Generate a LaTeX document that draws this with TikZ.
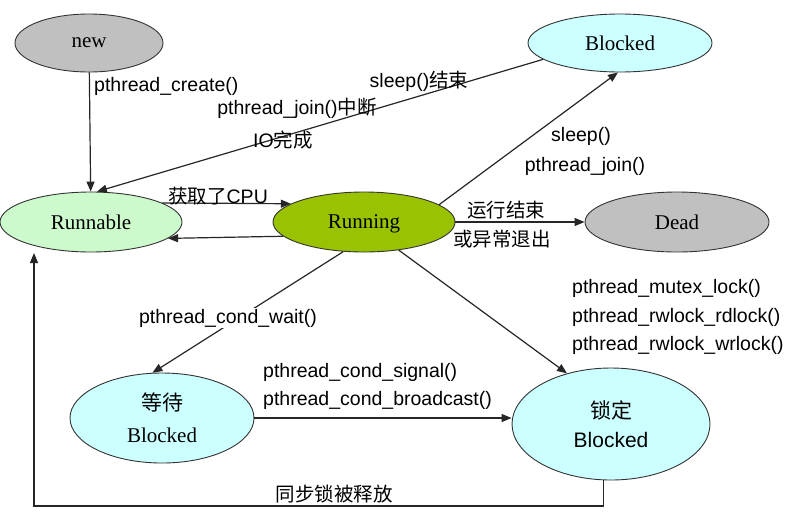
\documentclass[tikz,border=0pt]{standalone}
\usepackage{fontspec}
\setmainfont{Liberation Serif}
\newfontfamily\lab{Liberation Sans}
\newfontfamily\cjk{Noto Sans CJK SC}
\usetikzlibrary{arrows.meta,shapes.geometric}
\definecolor{gnew}{RGB}{192,192,192}
\definecolor{grunnable}{RGB}{204,250,204}
\definecolor{grunning}{RGB}{153,194,0}
\definecolor{gblocked}{RGB}{204,255,255}
\begin{document}
\begin{tikzpicture}[x=1pt,y=-1pt,
  state/.style={ellipse,draw=black!80,line width=0.9pt,inner sep=0pt,font=\fontsize{21}{24}\selectfont},
  arr/.style={draw=black!85,line width=1.2pt,-{Triangle[length=10pt,width=8pt]}},
  lbl/.style={font=\fontsize{19.5}{22}\lab,inner sep=1pt}]
\useasboundingbox (0,0) rectangle (799,515);
\fill[white] (0,0) rectangle (799,515);

% states
\node[state,fill=gnew,minimum width=148,minimum height=58] (new) at (89,43) {new};
\node[state,fill=grunnable,minimum width=182,minimum height=60] (run) at (91,222) {Runnable};
\node[state,fill=grunning,minimum width=182,minimum height=60,text depth=0pt] (ing) at (364,222) {Running};
\node[state,fill=gblocked,minimum width=184,minimum height=58] (blk) at (620,43) {Blocked};
\node[state,fill=gnew,minimum width=184,minimum height=60] (dead) at (677,222) {Dead};
\node[state,fill=gblocked,minimum width=184,minimum height=90,align=center,font=\fontsize{21}{32}\selectfont] (wait) at (162,418) {{\cjk 等待}\\Blocked};
\node[state,fill=gblocked,minimum width=198,minimum height=112,align=center,font=\fontsize{21}{29}\lab] (lock) at (611,424) {{\cjk 锁定}\\Blocked};

% connectors
\draw[arr] (new) -- (run);
\draw[arr] (blk.192) -- (run.79);
\draw[arr] (run.15) -- (ing.166);
\draw[arr] (ing.190.8) -- (run.348);
\draw[arr] (ing.13) -- (blk.266);
\draw[arr] (ing) -- (dead);
\draw[arr] (ing.235) -- (wait.102);
\draw[arr] (ing.321) -- (lock.131);
\draw[arr] (wait.east) -- (wait.east -| lock.west);
\coordinate (relCorner) at (34,506);
\coordinate (relEnd) at (34,253);
\draw[arr] (lock.262) |- (relCorner) -- (relEnd);

% labels
\node[lbl,anchor=west] at (93,86) {pthread\_create()};
\node[lbl] at (419,81) {sleep(){\cjk 结束}};
\node[lbl] at (297,108) {pthread\_join(){\cjk 中断}};
\node[lbl] at (283,140) {IO{\cjk 完成}};
\node[lbl] at (218,196) {{\cjk 获取了}CPU};
\node[lbl] at (581,136) {sleep()};
\node[lbl] at (585,166) {pthread\_join()};
\node[lbl] at (506,210) {\cjk 运行结束};
\node[lbl] at (502,239) {\cjk 或异常退出};
\node[lbl,fill=white] at (228,318) {pthread\_cond\_wait()};
\node[lbl,anchor=west] at (571,288) {pthread\_mutex\_lock()};
\node[lbl,anchor=west] at (571,317) {pthread\_rwlock\_rdlock()};
\node[lbl,anchor=west] at (571,345) {pthread\_rwlock\_wrlock()};
\node[lbl,anchor=west] at (262,372) {pthread\_cond\_signal()};
\node[lbl,anchor=west] at (262,400) {pthread\_cond\_broadcast()};
\node[lbl] at (334,494) {\cjk 同步锁被释放};
\end{tikzpicture}
\end{document}
